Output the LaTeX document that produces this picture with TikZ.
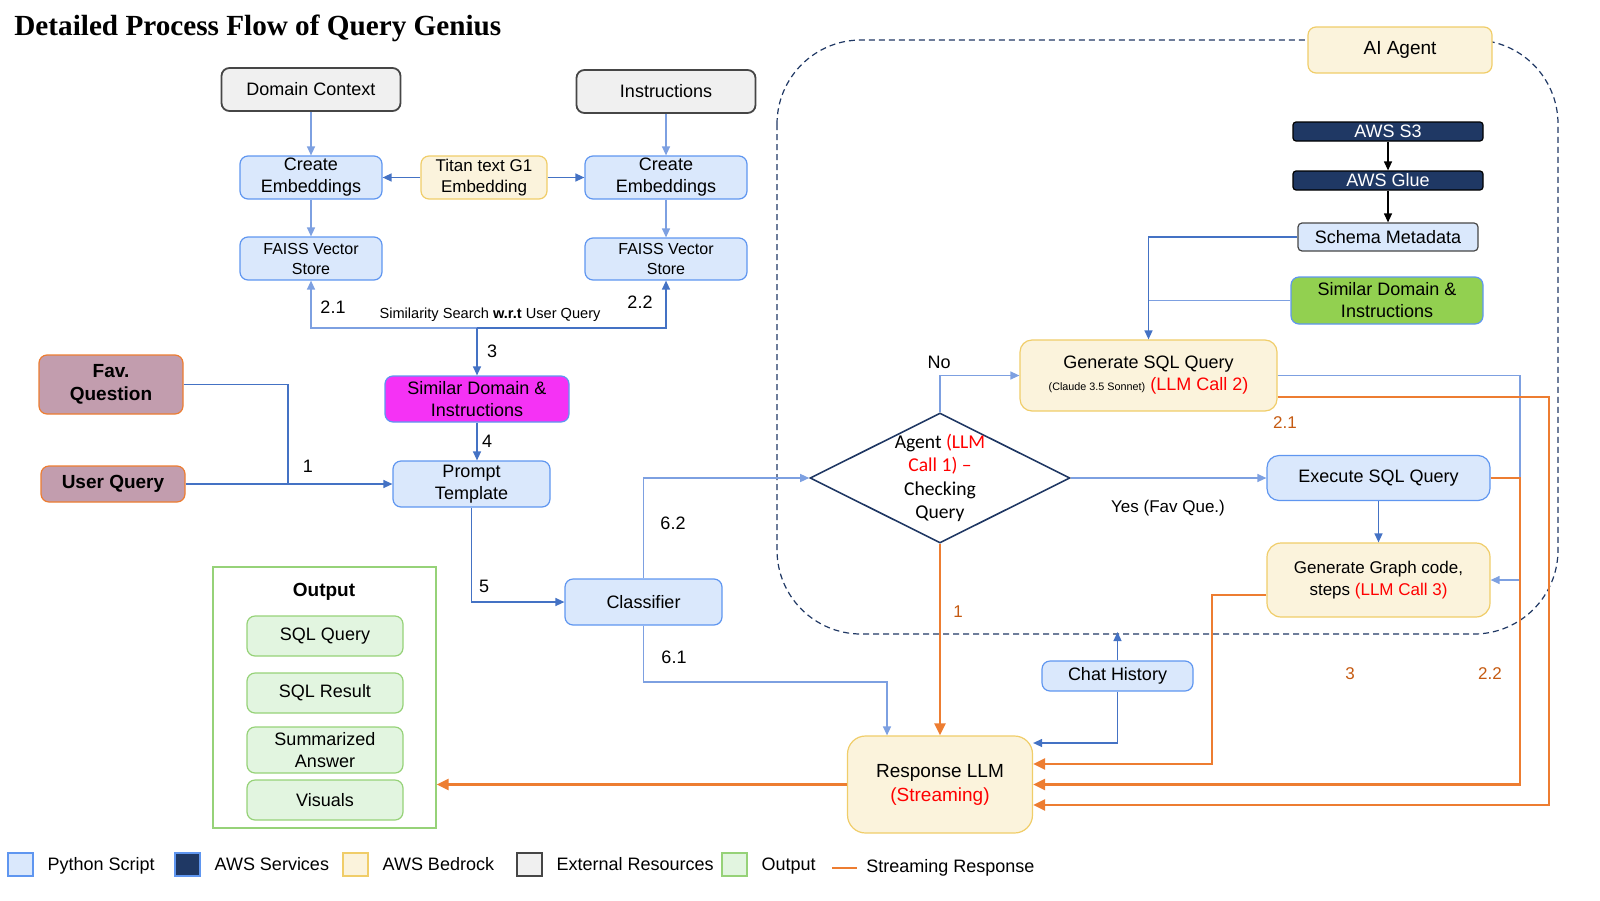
\documentclass[tikz,border=0pt]{standalone}
\usepackage{fontspec}
\setmainfont{Liberation Sans}
\newfontfamily\headfont{Liberation Serif}
\newfontfamily\agentfont{Carlito}
\usetikzlibrary{arrows.meta,positioning,shapes.geometric,calc}

\definecolor{pyfill}{RGB}{218,232,252}
\definecolor{pyline}{RGB}{95,150,240}
\definecolor{bedfill}{RGB}{251,243,220}
\definecolor{bedline}{RGB}{240,205,105}
\definecolor{extfill}{RGB}{240,240,240}
\definecolor{extline}{RGB}{70,70,70}
\definecolor{awsfill}{RGB}{31,56,100}
\definecolor{outfill}{RGB}{226,245,224}
\definecolor{outline}{RGB}{150,210,120}
\definecolor{magfill}{RGB}{245,50,245}
\definecolor{grnfill}{RGB}{146,208,80}
\definecolor{mauvefill}{RGB}{194,157,174}
\definecolor{mauveline}{RGB}{237,125,49}
\definecolor{linkblue}{RGB}{68,114,196}
\definecolor{linklight}{RGB}{125,160,225}
\definecolor{streamor}{RGB}{237,125,49}
\definecolor{ornum}{RGB}{197,90,17}
\definecolor{llmred}{RGB}{255,0,0}
\definecolor{navy}{RGB}{32,56,100}

\tikzset{
  box/.style={draw, rounded corners=4pt, align=center, inner sep=1pt, line width=0.6pt, font=\fontsize{9}{11}\selectfont},
  pybox/.style={box, fill=pyfill, draw=pyline},
  bedbox/.style={box, fill=bedfill, draw=bedline},
  extbox/.style={box, fill=extfill, draw=extline, line width=0.9pt},
  awsbox/.style={box, rounded corners=1.5pt, fill=awsfill, draw=black, text=white},
  outitem/.style={box, fill=outfill, draw=outline},
  link/.style={draw=linkblue, line width=0.65pt, -{Triangle[length=4.5pt,width=4pt]}},
  linklt/.style={link, draw=linklight},
  linkplain/.style={draw=linkblue, line width=0.65pt},
  stream/.style={draw=streamor, line width=1.3pt, -{Triangle[length=6pt,width=5.5pt]}},
  num/.style={font=\fontsize{9}{11}\selectfont},
  ornumber/.style={font=\fontsize{8.5}{10}\selectfont, text=ornum},
  legsq/.style={draw, line width=0.6pt, minimum width=12.5pt, minimum height=11.5pt, inner sep=0pt},
  legtext/.style={font=\fontsize{9}{11}\selectfont, text height=1.6ex, text depth=0.4ex, label distance=3.5pt},
}

\begin{document}
\begin{tikzpicture}[x=0.5pt,y=-0.5pt]
\useasboundingbox (0,0) rectangle (1600,900);

% title
\node[anchor=west, inner sep=0pt, font=\headfont\bfseries\fontsize{14.6}{17}\selectfont] (title) at (14,28) {Detailed Process Flow of Query Genius};

% agent frame
\draw[navy, dashed, dash pattern=on 3pt off 2pt, line width=0.6pt, rounded corners=42pt] (777,40) rectangle (1558,634);

% embeddings part
\node[extbox, minimum width=89.5pt, minimum height=21.5pt] (dom) at (311,89.5) {Domain Context};
\node[extbox, minimum width=89.5pt, minimum height=21.5pt] (instr) at (666,91.5) {Instructions};
\node[pybox, minimum width=71pt, minimum height=21.5pt] (embL) at (311,177.5) {Create\\Embeddings};
\node[bedbox, minimum width=63pt, minimum height=21.5pt, font=\fontsize{8.5}{10.5}\selectfont] (titan) at (484,177.5) {Titan text G1\\Embedding};
\node[pybox, minimum width=81pt, minimum height=21.5pt] (embR) at (666,177.5) {Create\\Embeddings};
\node[pybox, minimum width=71pt, minimum height=21.5pt, font=\fontsize{8}{10}\selectfont] (faissL) at (311,258.5) {FAISS Vector\\Store};
\node[pybox, minimum width=81pt, minimum height=21pt, font=\fontsize{8}{10}\selectfont] (faissR) at (666,259) {FAISS Vector\\Store};
\node[box, fill=magfill, draw=pyline, minimum width=92pt, minimum height=23pt] (simA) at (477,399) {Similar Domain \&\\Instructions};
\node[pybox, minimum width=78.5pt, minimum height=23pt] (prompt) at (471.5,484) {Prompt\\Template};
\node[box, fill=mauvefill, draw=mauveline, minimum width=72pt, minimum height=29.5pt, font=\bfseries\fontsize{9.5}{11.5}\selectfont] (fav) at (111,384.5) {Fav.\\Question};
\node[box, fill=mauvefill, draw=mauveline, minimum width=72pt, minimum height=18pt, font=\bfseries\fontsize{9.5}{11.5}\selectfont] (uq) at (113,484) {User Query};
\node[pybox, minimum width=78.5pt, minimum height=23pt] (clf) at (643.5,602) {Classifier};

% output
\node[draw=outline, line width=0.7pt, minimum width=111.5pt, minimum height=130.5pt] (outframe) at (324.5,697.5) {};
\node[font=\bfseries\fontsize{9.5}{11}\selectfont] (outtitle) at (324,592) {Output};
\node[outitem, minimum width=78pt, minimum height=20pt] (outq) at (325,636) {SQL Query};
\node[outitem, minimum width=78pt, minimum height=20pt] (outr) at (325,693) {SQL Result};
\node[outitem, minimum width=78pt, minimum height=23pt] (outs) at (325,750) {Summarized\\Answer};
\node[outitem, minimum width=78pt, minimum height=20pt] (outv) at (325,800) {Visuals};

% agent part
\node[bedbox, minimum width=92pt, minimum height=23pt, font=\fontsize{9.5}{11}\selectfont] (aiagent) at (1400,50) {AI Agent};
\node[awsbox, minimum width=95pt, minimum height=9.5pt] (s3) at (1388,131.5) {AWS S3};
\node[awsbox, minimum width=95pt, minimum height=9.5pt] (glue) at (1388,180.5) {AWS Glue};
\node[pybox, draw=extline, rounded corners=2pt, minimum width=90pt, minimum height=14pt] (schema) at (1388,237) {Schema Metadata};
\node[box, fill=grnfill, draw=pyline, minimum width=96pt, minimum height=23.5pt] (simB) at (1387,300.5) {Similar Domain \&\\Instructions};
\node[bedbox, rounded corners=6pt, minimum width=128.5pt, minimum height=35.5pt] (gensql) at (1148.5,375.5) {Generate SQL Query\\{\fontsize{5.4}{6}\selectfont (Claude 3.5 Sonnet)} \textcolor{llmred}{(LLM Call 2)}};
\node[draw=navy, line width=0.8pt, diamond, aspect=2, minimum width=130pt, minimum height=65pt, inner sep=0pt] (dec) at (940,478) {};
\node[align=center, font=\agentfont\fontsize{9.8}{11.75}\selectfont] (dectxt) at (940,478) {Agent \textcolor{llmred}{(LLM}\\\textcolor{llmred}{Call 1) –}\\Checking\\Query};
\node[pybox, rounded corners=6pt, minimum width=111.5pt, minimum height=22.5pt] (exec) at (1378.5,478) {Execute SQL Query};
\node[bedbox, rounded corners=7pt, minimum width=111.5pt, minimum height=37pt, font=\fontsize{8.5}{11}\selectfont] (graph) at (1378.5,580) {Generate\ Graph code,\\steps \textcolor{llmred}{(LLM Call 3)}};
\node[pybox, minimum width=75.5pt, minimum height=15pt] (chat) at (1117.5,676) {Chat History};
\node[bedbox, rounded corners=9pt, minimum width=92.5pt, minimum height=48.5pt, font=\fontsize{9.5}{12}\selectfont] (resp) at (940,784.5) {Response LLM\\\textcolor{llmred}{(Streaming)}};

% embedding connectors
\draw[linklt] (dom.south) -- (embL.north);
\draw[linklt] (instr.south) -- (embR.north);
\draw[link] (titan.west) -- (embL.east);
\draw[link] (titan.east) -- (embR.west);
\draw[linklt] (embL.south) -- (faissL.north);
\draw[linklt] (embR.south) -- (faissR.north);
\coordinate (split) at (477,328);
\draw[linklt] (split) -| (faissL.south);
\draw[link] (split) -| (faissR.south);
\draw[link] (split) -- (simA.north);
\draw[link] (simA.south) -- (simA.south |- prompt.north);
\node[num] (n21) at (333,307) {2.1};
\node[num] (n22) at (640,302) {2.2};
\node[font=\fontsize{7.3}{9}\selectfont] (simsearch) at (490,315) {Similarity Search \textbf{w.r.t} User Query};
\node[num] (n3) at (492,351) {3};
\node[num] (n4) at (487,441) {4};

% query connectors
\draw[linkplain] (fav.east) -| (288,484);
\draw[link] (uq.east) -- (prompt.west);
\node[num] (n1) at (308,466) {1};
\draw[link] (prompt.south) |- (clf.west);
\node[num] (n5) at (484,586) {5};
\draw[linklt] (clf.north) |- (dec.west);
\node[num] (n62) at (673,523) {6.2};
\coordinate (c61) at (887,682);
\draw[linklt] (clf.south) |- (c61) -- (c61 |- resp.north);
\node[num] (n61) at (674,657) {6.1};

% agent connectors
\draw[-{Triangle[length=4.5pt,width=4pt]}, line width=0.6pt] (s3.south) -- (glue.north);
\draw[-{Triangle[length=4.5pt,width=4pt]}, line width=0.6pt] (glue.south) -- (schema.north);
\draw[link] (schema.west) -| (gensql.north);
\draw[linklt, -] (simB.west) -- (simB.west -| gensql.north);
\draw[linklt] (dec.north) |- (gensql.west);
\node[num] (no) at (939,362) {No};
\draw[linklt] (dec.east) -- (exec.west);
\node[font=\fontsize{8.5}{10}\selectfont] (yes) at (1168,508) {Yes (Fav Que.)};
\draw[link] (exec.south) -- (graph.north);
\coordinate (blueturn) at (1520,375.5);
\draw[linklt] (gensql.east) -- (blueturn) |- (graph.east);
\draw[link] (chat.north) -- (chat.north |- 0,632);
\draw[link] (chat.south) |- (resp.east |- 0,743);

% streaming
\draw[stream] (dec.south) -- (resp.north);
\node[ornumber] (o1) at (958,612) {1};
\draw[stream] (exec.east) -| (blueturn |- resp.east) -- (resp.east);
\coordinate (orturn) at (1549,397);
\draw[stream] (gensql.east |- orturn) -- (orturn) |- (resp.east |- 0,805);
\node[ornumber] (o21) at (1285,423) {2.1};
\node[ornumber] (o22) at (1490,674) {2.2};
\draw[stream] (graph.west |- 0,595) -| (1212,764) -- (resp.east |- 0,764);
\node[ornumber] (o3) at (1350,674) {3};
\draw[stream] (resp.west) -- (resp.west -| outframe.east);

% legend
\node[legsq, fill=pyfill, draw=pyline, label={[legtext]right:Python Script}] (lgpy) at (20.5,864.5) {};
\node[legsq, fill=awsfill, draw=pyline, label={[legtext]right:AWS Services}] (lgaws) at (187.5,864.5) {};
\node[legsq, fill=bedfill, draw=bedline, label={[legtext]right:AWS Bedrock}] (lgbed) at (355.5,864.5) {};
\node[legsq, fill=extfill, draw=extline, label={[legtext]right:External Resources}] (lgext) at (529.5,864.5) {};
\node[legsq, fill=outfill, draw=outline, label={[legtext]right:Output}] (lgout) at (734.5,864.5) {};
\coordinate (lgs1) at (832,868);
\coordinate (lgs2) at (857,868);
\draw[streamor, line width=1.3pt] (lgs1) -- (lgs2);
\node[legtext, anchor=west, inner sep=0pt] (lgstream) at (866,866) {Streaming Response};
\end{tikzpicture}
\end{document}
